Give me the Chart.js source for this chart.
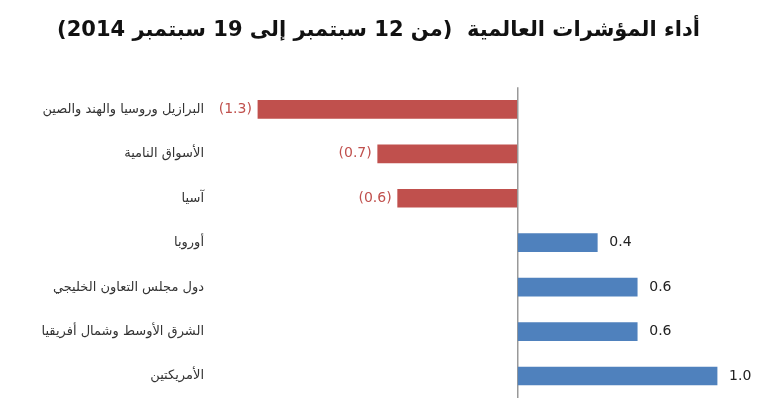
<!DOCTYPE html>
<html>
<head>
<meta charset="utf-8">
<script src="https://cdn.jsdelivr.net/npm/chart.js@4"></script>
<style>
  body { margin: 0; background: #fff; }
  #wrap { width: 770px; height: 412px; }
</style>
</head>
<body>
<div id="wrap"><canvas id="chart"></canvas></div>
<script>
// Performance of global indices, 12 to 19 Sep 2014
const categories = ['البرازيل وروسيا والهند والصين', 'الأسواق النامية', 'آسيا', 'أوروبا',
  'دول مجلس التعاون الخليجي', 'الشرق الأوسط وشمال أفريقيا', 'الأمريكتين'];
const changes = [-1.3, -0.7, -0.6, 0.4, 0.6, 0.6, 1.0];
const titleText = 'أداء المؤشرات العالمية  (من 12 سبتمبر إلى 19 سبتمبر 2014)';

const RED = '#c0504d';
const BLUE = '#4f81bd';

// write value next to each bar, negatives in parentheses
const valueLabels = {
  id: 'valueLabels',
  afterDatasetsDraw(chart) {
    const ctx = chart.ctx;
    const meta = chart.getDatasetMeta(0);
    ctx.save();
    ctx.font = '14px "DejaVu Sans"';
    ctx.textBaseline = 'middle';
    meta.data.forEach((bar, i) => {
      const v = changes[i];
      if (v < 0) {
        ctx.fillStyle = RED;
        ctx.textAlign = 'right';
        ctx.fillText('(' + Math.abs(v).toFixed(1) + ')', bar.x - 6, bar.y);
      } else {
        ctx.fillStyle = '#222';
        ctx.textAlign = 'left';
        ctx.fillText(v.toFixed(1), bar.x + 12, bar.y);
      }
    });
    ctx.restore();
  }
};

new Chart(document.getElementById('chart'), {
  type: 'bar',
  data: {
    labels: categories,
    datasets: [{
      data: changes,
      backgroundColor: changes.map(v => v < 0 ? RED : BLUE),
      barThickness: 18
    }]
  },
  options: {
    indexAxis: 'y',
    responsive: true,
    maintainAspectRatio: false,
    animation: false,
    layout: { padding: { left: 0, right: 13, top: 2, bottom: 0 } },
    plugins: {
      legend: { display: false },
      tooltip: { enabled: false },
      title: {
        display: true,
        text: titleText,
        color: '#111',
        font: { family: 'DejaVu Sans', size: 21, weight: 'bold' },
        padding: { top: 16, bottom: 44 }
      }
    },
    scales: {
      x: {
        min: -1.5,
        max: 1.2,
        ticks: { display: false, stepSize: 0.5 },
        border: { display: false },
        grid: {
          color: c => c.tick && c.tick.value === 0 ? '#999' : 'transparent',
          lineWidth: 1.5,
          drawTicks: false
        }
      },
      y: {
        afterFit: s => { s.width = 218; },
        ticks: { color: '#333', font: { family: 'DejaVu Sans', size: 13 }, padding: 6 },
        grid: { display: false },
        border: { display: false }
      }
    }
  },
  plugins: [valueLabels]
});
</script>
</body>
</html>
